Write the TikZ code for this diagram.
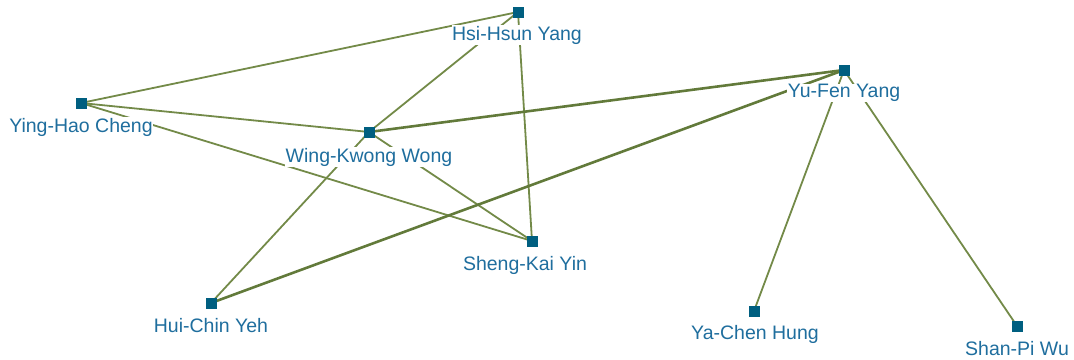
\documentclass[tikz,border=0pt]{standalone}
\usepackage{fontspec}
\setmainfont{Liberation Sans}
\definecolor{edgecol}{HTML}{738A48}
\definecolor{thickcol}{HTML}{627A3A}
\definecolor{markcol}{HTML}{005F80}
\definecolor{labcol}{HTML}{1F6E9E}
\begin{document}
\begin{tikzpicture}[x=1pt,y=-1pt,
  mk/.style={fill=markcol,draw=none,minimum size=11pt,inner sep=0pt,outer sep=0pt},
  lab/.style={text=labcol,fill=white,font=\fontsize{19.5}{21}\selectfont,inner sep=0.5pt,anchor=center},
  edge/.style={draw=edgecol,line width=1.8pt},
  thick edge/.style={draw=thickcol,line width=2.6pt}]
\useasboundingbox (0,0) rectangle (1074,359);
\node[mk] (hsi) at (518,12) {};
\node[mk] (ying) at (81,103) {};
\node[mk] (wing) at (369,132) {};
\node[mk] (yufen) at (844,70) {};
\node[mk] (sheng) at (532,241) {};
\node[mk] (hui) at (211,303) {};
\node[mk] (ya) at (754,311) {};
\node[mk] (shan) at (1017,326) {};
\draw[edge] (hsi.center) -- (ying.center);
\draw[edge] (hsi.center) -- (wing.center);
\draw[edge] (hsi.center) -- (sheng.center);
\draw[edge] (ying.center) -- (wing.center);
\draw[edge] (ying.center) -- (sheng.center);
\draw[thick edge] (wing.center) -- (yufen.center);
\draw[edge] (wing.center) -- (hui.center);
\draw[edge] (wing.center) -- (sheng.center);
\draw[thick edge] (yufen.center) -- (hui.center);
\draw[edge] (yufen.center) -- (ya.center);
\draw[edge] (yufen.center) -- (shan.center);
\node[mk] at (hsi) {};
\node[mk] at (ying) {};
\node[mk] at (wing) {};
\node[mk] at (yufen) {};
\node[mk] at (sheng) {};
\node[mk] at (hui) {};
\node[mk] at (ya) {};
\node[mk] at (shan) {};
\node[lab] (lhsi) at (517,35) {Hsi-Hsun Yang};
\node[lab] (lying) at (81,127) {Ying-Hao Cheng};
\node[lab] (lwing) at (369,157) {Wing-Kwong Wong};
\node[lab] (lyufen) at (844,93) {Yu-Fen Yang};
\node[lab] (lsheng) at (525,265) {Sheng-Kai Yin};
\node[lab] (lhui) at (211,326) {Hui-Chin Yeh};
\node[lab] (lya) at (755,334) {Ya-Chen Hung};
\node[lab] (lshan) at (1017,349) {Shan-Pi Wu};
\end{tikzpicture}
\end{document}
